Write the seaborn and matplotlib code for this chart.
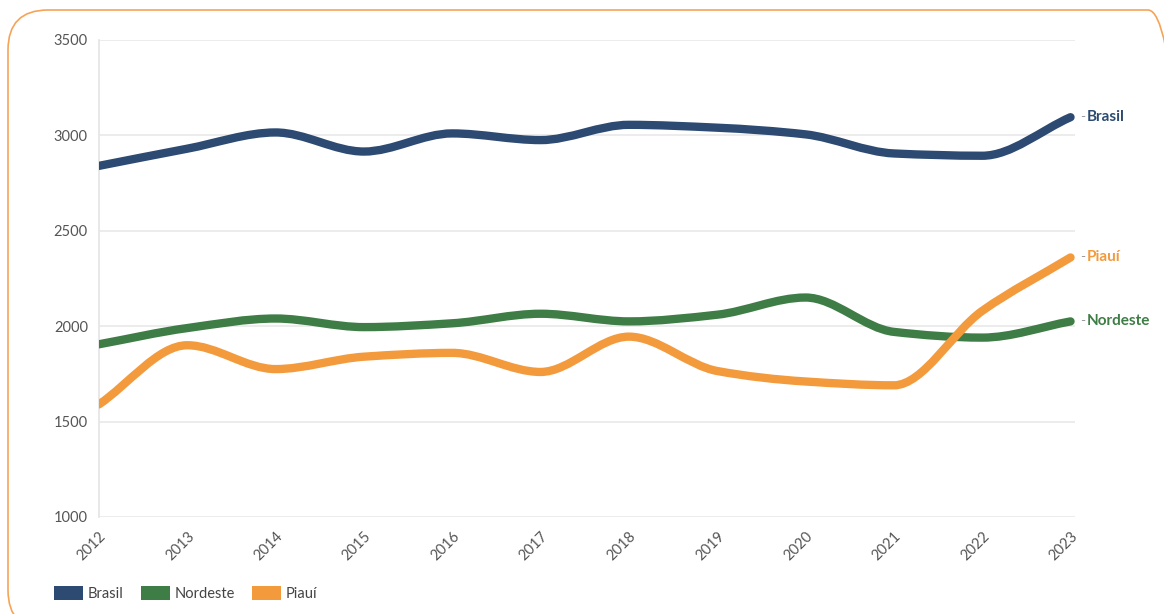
import numpy as np
import pandas as pd
import matplotlib
matplotlib.use("Agg")
import matplotlib.pyplot as plt
from matplotlib.path import Path
from matplotlib.patches import PathPatch, FancyBboxPatch, Patch
import seaborn as sns

# ---------------------------------------------------------------------
# Data
# ---------------------------------------------------------------------
years = [2012, 2013, 2014, 2015, 2016, 2017, 2018, 2019, 2020, 2021, 2022, 2023]
brasil = [2840, 2930, 3015, 2915, 3010, 2975, 3055, 3040, 3005, 2905, 2893, 3095]
nordeste = [1905, 1990, 2040, 1995, 2015, 2065, 2025, 2060, 2150, 1970, 1940, 2025]
piaui = [1590, 1900, 1775, 1840, 1860, 1760, 1945, 1765, 1710, 1690, 2080, 2360]

series = ["Brasil", "Nordeste", "Piauí"]
colors = {"Brasil": "#2c4a72", "Nordeste": "#3e7d45", "Piauí": "#f39a3d"}
yticks = [1000, 1500, 2000, 2500, 3000, 3500]

df = pd.DataFrame({
    "ano": years * 3,
    "valor": brasil + nordeste + piaui,
    "serie": ["Brasil"] * 12 + ["Nordeste"] * 12 + ["Piauí"] * 12,
})


def monotone_path(x, y):
    # cubic bezier through the points, monotone-x tangents (like d3.curveMonotoneX)
    x = np.asarray(x, float)
    y = np.asarray(y, float)
    h = np.diff(x)
    d = np.diff(y) / h
    m = np.zeros_like(y)
    m[0], m[-1] = d[0], d[-1]
    for i in range(1, len(y) - 1):
        if d[i - 1] * d[i] <= 0:
            m[i] = 0
        else:
            m[i] = 2 / (1 / d[i - 1] + 1 / d[i])
    verts = [(x[0], y[0])]
    codes = [Path.MOVETO]
    for i in range(len(x) - 1):
        verts += [(x[i] + h[i] / 3, y[i] + m[i] * h[i] / 3),
                  (x[i + 1] - h[i] / 3, y[i + 1] - m[i + 1] * h[i] / 3),
                  (x[i + 1], y[i + 1])]
        codes += [Path.CURVE4] * 3
    return Path(verts, codes)


sns.set_theme(style="white")
plt.rcParams["font.family"] = ["Lato", "DejaVu Sans"]

W, H = 1164, 614
fig = plt.figure(figsize=(W / 100, H / 100), dpi=100)
ax = fig.add_axes([0.085, 0.158, 0.8385, 0.777])

sns.lineplot(data=df, x="ano", y="valor", hue="serie", palette=colors,
             legend=False, ax=ax)

# swap seaborn's straight segments for smooth curves
for line, name in zip(ax.lines, series):
    xy = line.get_xydata()
    line.set_visible(False)
    ax.add_patch(PathPatch(monotone_path(xy[:, 0], xy[:, 1]), fill=False,
                           edgecolor=colors[name], lw=6, capstyle="round",
                           joinstyle="round", zorder=3))

ax.set_xlim(2012, 2023.05)
ax.set_ylim(1000, 3500)
ax.set_yticks(yticks)
ax.set_xticks(years)
ax.set_xticklabels([str(y) for y in years], rotation=45, ha="right",
                   rotation_mode="anchor")
ax.set_xlabel("")
ax.set_ylabel("")
ax.grid(axis="y", color="#e9e9e9", lw=1.2)
for s in ["top", "right", "bottom"]:
    ax.spines[s].set_visible(False)
ax.spines["left"].set_color("#e4e4e4")
ax.spines["left"].set_linewidth(1.2)
ax.tick_params(axis="both", colors="#e4e4e4", labelcolor="#555555",
               labelsize=10.5, length=5, width=1.2)
ax.tick_params(axis="y", pad=3)

# end labels
for name, vals in zip(series, [brasil, nordeste, piaui]):
    ax.annotate("-", xy=(years[-1], vals[-1]), xytext=(7, 0),
                textcoords="offset points", va="center", color="#999999",
                fontsize=10)
    ax.annotate(name, xy=(years[-1], vals[-1]), xytext=(12, 0),
                textcoords="offset points", va="center", color=colors[name],
                fontsize=11, fontweight="bold")

handles = [Patch(facecolor=colors[n], edgecolor="none", label=n) for n in series]
fig.legend(handles=handles, loc="lower left", bbox_to_anchor=(0.035, 0.0),
           ncol=3, frameon=False, fontsize=10.5, handlelength=2.0,
           handleheight=1.1, handletextpad=0.3, columnspacing=1.2,
           labelcolor="#444444")

# rounded orange frame, partly cut off by the image edges like the reference
frame = FancyBboxPatch((8 / W, -16 / H), 1180 / W, 620 / H,
                       boxstyle=f"round,pad=0,rounding_size={40 / W}",
                       mutation_aspect=W / H, transform=fig.transFigure,
                       fill=False, edgecolor="#f5a457", lw=1.2)
fig.patches.append(frame)

fig.savefig("out.png", dpi=100)
